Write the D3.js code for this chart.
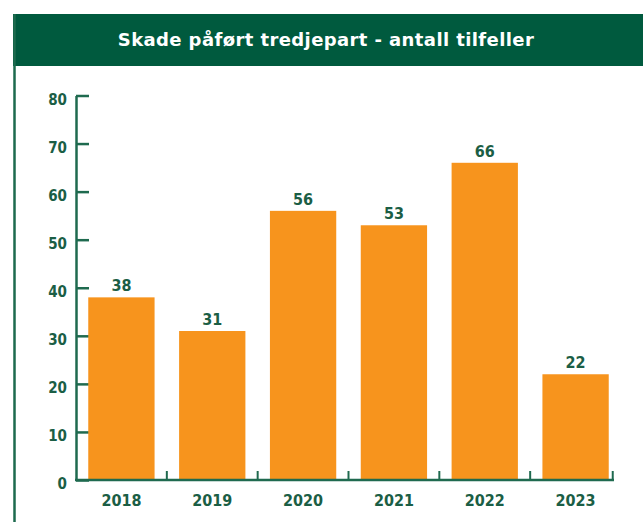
<!DOCTYPE html>
<html>
<head>
<meta charset="utf-8">
<script src="https://cdn.jsdelivr.net/npm/d3@7"></script>
<style>
  body { margin: 0; background: #fff; }
  text { font-family: "DejaVu Sans Condensed", "DejaVu Sans", sans-serif; font-weight: bold; }
</style>
</head>
<body>
<div id="plot_area"></div>
<script>
// data
var title = "Skade påført tredjepart - antall tilfeller";
var years = ["2018", "2019", "2020", "2021", "2022", "2023"];
var counts = [38, 31, 56, 53, 66, 22];
var yTicks = [0, 10, 20, 30, 40, 50, 60, 70, 80];

var W = 643, H = 522;
var green = "#005a3e", textGreen = "#1b5e45", orange = "#f7941d";

var svg = d3.select("#plot_area")
  .append("svg")
    .attr("width", W)
    .attr("height", H);

// header band + left border of the box
svg.append("rect")
  .attr("x", 13).attr("y", 14)
  .attr("width", W - 13).attr("height", 52)
  .attr("fill", green);
svg.append("line")
  .attr("x1", 14.5).attr("x2", 14.5)
  .attr("y1", 14).attr("y2", H)
  .attr("stroke", "#1d6a4e").attr("stroke-width", 2.5);

svg.append("text")
  .attr("x", 326).attr("y", 46)
  .attr("text-anchor", "middle")
  .attr("fill", "#fff")
  .style("font-family", "'DejaVu Sans', sans-serif")
  .style("font-size", "18px")
  .style("letter-spacing", "0.4px")
  .text(title);

// scales
var x = d3.scaleBand()
  .domain(years)
  .range([76, 621])
  .paddingInner(0.27)
  .paddingOuter(0.135);

var y = d3.scaleLinear()
  .domain([0, 80])
  .range([480, 95.5]);

var axisColor = "#1f6a4f";

// Y axis: ticks pointing right
var yAxis = svg.append("g")
  .attr("transform", "translate(76,0)")
  .call(d3.axisRight(y).tickValues(yTicks).tickSize(13).tickSizeOuter(0).tickFormat(""));
yAxis.selectAll("line, path").attr("stroke", axisColor).attr("stroke-width", 2.5);

svg.selectAll(".ylab")
  .data(yTicks)
  .enter()
  .append("text")
    .attr("class", "ylab")
    .attr("x", 67)
    .attr("y", function(d) { return y(d) + 9; })
    .attr("text-anchor", "end")
    .attr("fill", textGreen)
    .style("font-size", "15px")
    .text(function(d) { return d; });

// bars
svg.selectAll(".bar")
  .data(counts)
  .enter()
  .append("rect")
    .attr("class", "bar")
    .attr("x", function(d, i) { return x(years[i]); })
    .attr("y", function(d) { return y(d); })
    .attr("width", x.bandwidth())
    .attr("height", function(d) { return y(0) - y(d); })
    .attr("fill", orange);

// value labels
svg.selectAll(".val")
  .data(counts)
  .enter()
  .append("text")
    .attr("class", "val")
    .attr("x", function(d, i) { return x(years[i]) + x.bandwidth() / 2; })
    .attr("y", function(d) { return y(d) - 6; })
    .attr("text-anchor", "middle")
    .attr("fill", textGreen)
    .style("font-size", "16px")
    .text(function(d) { return d; });

// X axis: baseline with small upward ticks between the bars
var xEnd = x(years[years.length - 1]) + x.bandwidth() + 4;
svg.append("line")
  .attr("x1", 75).attr("x2", xEnd + 1.25)
  .attr("y1", y(0)).attr("y2", y(0))
  .attr("stroke", axisColor).attr("stroke-width", 2.5);

var gap = x.step() - x.bandwidth();
var sepX = years.slice(1).map(function(d) { return x(d) - gap / 2; }).concat([xEnd]);
svg.selectAll(".sep")
  .data(sepX)
  .enter()
  .append("line")
    .attr("class", "sep")
    .attr("x1", function(d) { return d; }).attr("x2", function(d) { return d; })
    .attr("y1", y(0)).attr("y2", y(0) - 9)
    .attr("stroke", axisColor).attr("stroke-width", 2);

svg.selectAll(".xlab")
  .data(years)
  .enter()
  .append("text")
    .attr("class", "xlab")
    .attr("x", function(d) { return x(d) + x.bandwidth() / 2; })
    .attr("y", 506)
    .attr("text-anchor", "middle")
    .attr("fill", textGreen)
    .style("font-size", "16px")
    .text(function(d) { return d; });
</script>
</body>
</html>
